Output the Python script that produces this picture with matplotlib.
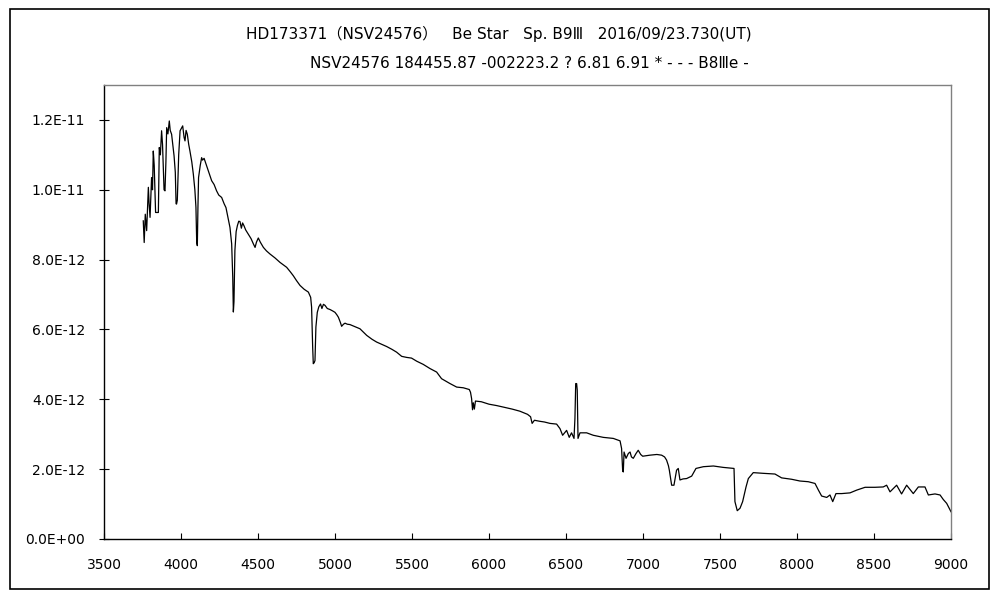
import matplotlib
matplotlib.use("Agg")
import matplotlib.pyplot as plt
from matplotlib.patches import Rectangle
from matplotlib.ticker import FuncFormatter

# Wavelength (Angstrom) and flux (units of 1e-12)
wavelength = [
    3755, 3761, 3768, 3777, 3788, 3793, 3799, 3809, 3815, 3820, 3826, 3835, 3853, 3859, 3866,
    3874, 3880, 3885, 3890, 3896, 3902, 3907, 3915, 3924, 3930, 3939, 3955, 3963, 3968, 3971,
    3976, 3985, 3994, 4011, 4020, 4026, 4033, 4041, 4050, 4058, 4070, 4080, 4090, 4097, 4102,
    4106, 4110, 4114, 4125, 4134, 4140, 4150, 4166, 4180, 4199, 4215, 4231, 4245, 4264, 4280,
    4292, 4305, 4318, 4329, 4336, 4340, 4344, 4350, 4358, 4366, 4375, 4383, 4392, 4400, 4409,
    4420, 4437, 4455, 4470, 4481, 4490, 4502, 4515, 4535, 4555, 4578, 4610, 4643, 4665, 4686,
    4710, 4729, 4750, 4773, 4800, 4827, 4842, 4848, 4855, 4859, 4865, 4870, 4876, 4885, 4895,
    4906, 4915, 4925, 4935, 4950, 4968, 4985, 5000, 5012, 5022, 5035, 5043, 5055, 5065, 5080,
    5097, 5130, 5162, 5185, 5206, 5240, 5270, 5300, 5336, 5370, 5400, 5433, 5465, 5497, 5531,
    5573, 5617, 5660, 5692, 5720, 5747, 5790, 5833, 5872, 5880, 5887, 5893, 5898, 5905, 5912,
    5950, 6000, 6050, 6100, 6150, 6200, 6250, 6270, 6280, 6295, 6330, 6360, 6396, 6439, 6461,
    6478, 6504, 6521, 6536, 6552, 6558, 6563, 6569, 6573, 6578, 6591, 6634, 6677, 6742, 6807,
    6851, 6861, 6868, 6872, 6877, 6890, 6905, 6916, 6925, 6937, 6955, 6969, 6985, 6998, 7045,
    7090, 7121, 7140, 7153, 7165, 7171, 7186, 7201, 7218, 7229, 7240, 7260, 7283, 7316, 7344,
    7392, 7457, 7521, 7591, 7597, 7612, 7630, 7647, 7669, 7684, 7716, 7781, 7857, 7900, 7965,
    8019, 8073, 8117, 8139, 8160, 8193, 8214, 8232, 8253, 8290, 8344, 8388, 8442, 8506, 8560,
    8582, 8604, 8647, 8679, 8712, 8755, 8788, 8831, 8853, 8896, 8929, 8950, 8972, 8994, 9000,
]
flux_e12 = [
    9.11, 8.49, 9.30, 8.83, 10.07, 9.60, 9.21, 10.35, 10.00, 11.11, 10.70, 9.35, 9.35, 11.21, 11.00,
    11.69, 11.30, 10.60, 10.00, 9.97, 10.80, 11.78, 11.60, 11.97, 11.70, 11.59, 10.97, 10.50, 9.60, 9.59,
    9.70, 11.00, 11.69, 11.83, 11.50, 11.40, 11.70, 11.59, 11.30, 11.11, 10.80, 10.45, 10.00, 9.50, 8.50,
    8.40, 9.50, 10.35, 10.70, 10.92, 10.85, 10.90, 10.69, 10.50, 10.26, 10.15, 9.97, 9.85, 9.78, 9.60,
    9.49, 9.20, 8.92, 8.45, 7.50, 6.50, 6.80, 8.26, 8.80, 8.97, 9.10, 9.09, 8.90, 9.05, 8.97,
    8.85, 8.73, 8.60, 8.45, 8.35, 8.50, 8.62, 8.50, 8.35, 8.25, 8.16, 8.05, 7.92, 7.85, 7.78,
    7.65, 7.54, 7.40, 7.26, 7.15, 7.07, 6.92, 6.64, 5.49, 5.02, 5.05, 5.11, 6.07, 6.49, 6.65,
    6.73, 6.60, 6.72, 6.69, 6.60, 6.57, 6.53, 6.49, 6.42, 6.35, 6.20, 6.09, 6.15, 6.18, 6.15,
    6.14, 6.08, 6.02, 5.92, 5.83, 5.72, 5.64, 5.58, 5.51, 5.43, 5.35, 5.23, 5.20, 5.18, 5.09,
    5.00, 4.88, 4.78, 4.59, 4.52, 4.45, 4.35, 4.33, 4.28, 4.20, 4.02, 3.70, 3.90, 3.72, 3.95,
    3.93, 3.86, 3.82, 3.77, 3.72, 3.66, 3.57, 3.50, 3.31, 3.40, 3.37, 3.35, 3.31, 3.29, 3.16,
    2.97, 3.11, 2.91, 3.04, 2.88, 3.45, 4.45, 4.45, 4.26, 2.88, 3.04, 3.04, 2.97, 2.91, 2.88,
    2.81, 2.59, 1.95, 1.92, 2.49, 2.31, 2.45, 2.49, 2.35, 2.31, 2.45, 2.54, 2.42, 2.37, 2.40,
    2.42, 2.40, 2.35, 2.26, 2.10, 1.97, 1.54, 1.54, 1.97, 2.02, 1.69, 1.72, 1.73, 1.80, 2.02,
    2.07, 2.09, 2.05, 2.02, 1.07, 0.81, 0.88, 1.07, 1.49, 1.73, 1.90, 1.88, 1.86, 1.75, 1.71,
    1.66, 1.64, 1.59, 1.40, 1.23, 1.19, 1.26, 1.07, 1.30, 1.30, 1.32, 1.40, 1.48, 1.48, 1.49,
    1.54, 1.35, 1.54, 1.29, 1.54, 1.30, 1.49, 1.49, 1.26, 1.29, 1.26, 1.13, 1.02, 0.83, 0.78,
]
flux = [f * 1e-12 for f in flux_e12]

x_ticks = [3500, 4000, 4500, 5000, 5500, 6000, 6500, 7000, 7500, 8000, 8500, 9000]
y_ticks = [0.0, 2e-12, 4e-12, 6e-12, 8e-12, 1.0e-11, 1.2e-11]

title1 = "HD173371（NSV24576）   Be Star   Sp. B9Ⅲ   2016/09/23.730(UT)"
title2 = "NSV24576 184455.87 -002223.2 ? 6.81 6.91 * - - - B8Ⅲe -"

plt.rcParams["font.family"] = ["DejaVu Sans", "Noto Sans CJK JP"]

fig = plt.figure(figsize=(10, 6), dpi=100)
fig.patch.set_facecolor("white")
fig.patches.append(Rectangle((0.010, 0.018), 0.979, 0.967, transform=fig.transFigure,
                             fill=False, edgecolor="black", linewidth=1.2))

ax = fig.add_axes([0.104, 0.1017, 0.847, 0.7566])
ax.plot(wavelength, flux, color="black", linewidth=0.9)

ax.set_xlim(3500, 9000)
ax.set_ylim(0, 1.3e-11)
ax.set_xticks(x_ticks)
ax.set_yticks(y_ticks)

def yfmt(v, pos):
    s = "%.1E" % v
    mant, exp = s.split("E")
    sign = exp[0]
    e = int(exp[1:])
    return "%sE%s%02d" % (mant, sign, e)

ax.yaxis.set_major_formatter(FuncFormatter(yfmt))
ax.tick_params(axis="y", direction="inout", length=7, width=0.8, pad=10, labelsize=10)
ax.tick_params(axis="x", direction="in", length=4, width=0.8, pad=14, labelsize=10)

for side in ("left", "bottom"):
    ax.spines[side].set_color("black")
    ax.spines[side].set_linewidth(1.0)
for side in ("top", "right"):
    ax.spines[side].set_color("#808080")
    ax.spines[side].set_linewidth(1.0)

tfam = ["DejaVu Sans", "Noto Sans CJK JP"]
fig.text(0.4985, 1 - 34 / 600, title1, ha="center", va="center", fontsize=11, family=tfam)
fig.text(0.5295, 1 - 63 / 600, title2, ha="center", va="center", fontsize=11, family=tfam)

fig.savefig("out.png", dpi=100, facecolor="white")
